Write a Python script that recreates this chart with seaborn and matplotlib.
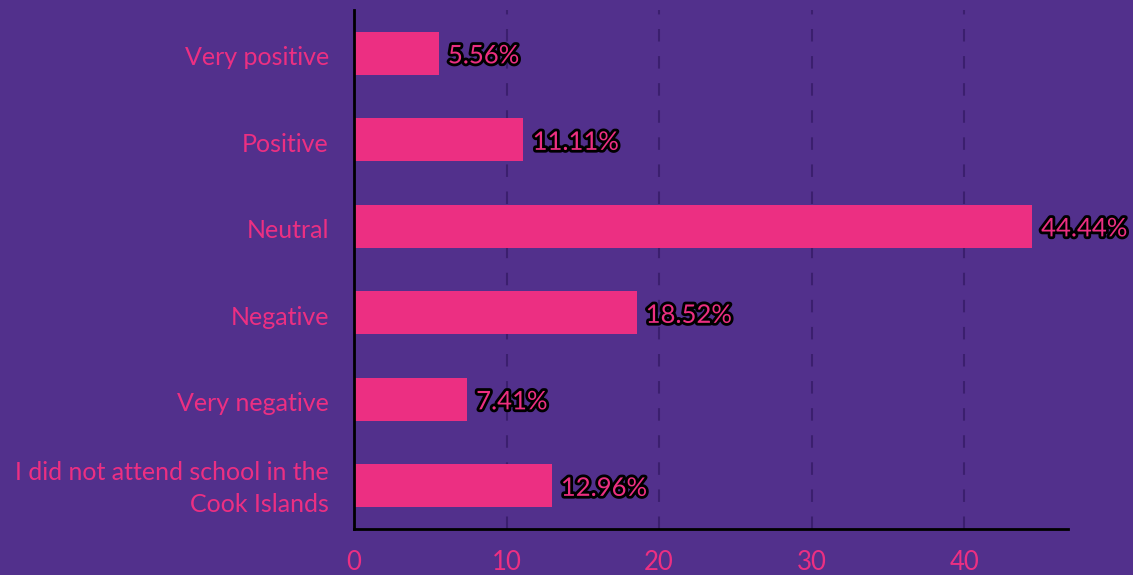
import matplotlib
matplotlib.use("Agg")
import matplotlib.pyplot as plt
import matplotlib.patheffects as pe
import matplotlib.transforms as mtransforms
import seaborn as sns
import pandas as pd

categories = [
    "Very positive",
    "Positive",
    "Neutral",
    "Negative",
    "Very negative",
    "I did not attend school in the\nCook Islands",
]
percentages = [5.56, 11.11, 44.44, 18.52, 7.41, 12.96]
x_ticks = [0, 10, 20, 30, 40]

BG = "#52308C"
PINK = "#EC2F82"
GRID = "#3B1F6E"

sns.set_theme(style="white")
plt.rcParams["font.family"] = ["Lato", "DejaVu Sans"]

df = pd.DataFrame({"category": categories, "pct": percentages})

fig = plt.figure(figsize=(11.33, 5.75), dpi=100, facecolor=BG)
ax = fig.add_axes([0.3124, 0.08, 0.9426 - 0.3124, 0.9826 - 0.08])
ax.set_facecolor(BG)

sns.barplot(data=df, x="pct", y="category", orient="h", color=PINK,
            saturation=1, width=0.5, linewidth=0, edgecolor="none",
            ax=ax, zorder=3)

ax.set_xlim(0, 46.8)
ax.set_ylim(5.5, -0.5)
ax.set_xticks(x_ticks)
ax.set_xticklabels([str(t) for t in x_ticks])
ax.set_xlabel("")
ax.set_ylabel("")

for x in x_ticks[1:]:
    ax.axvline(x, color=GRID, lw=1.5, ls=(0, (6, 7)), zorder=1)

for s in ["top", "right"]:
    ax.spines[s].set_visible(False)
for s in ["left", "bottom"]:
    ax.spines[s].set_color("black")
    ax.spines[s].set_linewidth(2)
    ax.spines[s].set_zorder(4)

ax.tick_params(axis="x", length=0, pad=15, labelsize=18.5, labelcolor=PINK)
ax.tick_params(axis="y", length=0, pad=18, labelsize=18, labelcolor=PINK)
for lbl in ax.get_yticklabels():
    lbl.set_horizontalalignment("right")
    lbl.set_multialignment("right")
    lbl.set_linespacing(1.5)
    # nudge single-line labels down a touch, the two-line label up
    dy = 3.0 if "\n" in lbl.get_text() else -1.8
    lbl.set_transform(lbl.get_transform() +
                      mtransforms.ScaledTranslation(0, dy / 72, fig.dpi_scale_trans))

for i, v in enumerate(percentages):
    ax.text(v + 0.6, i + 0.03, f"{v:.2f}%", va="center", ha="left",
            fontsize=18.5, color=PINK, zorder=5,
            path_effects=[pe.withStroke(linewidth=4, foreground="black")])

fig.savefig("out.png", dpi=100, facecolor=BG)
